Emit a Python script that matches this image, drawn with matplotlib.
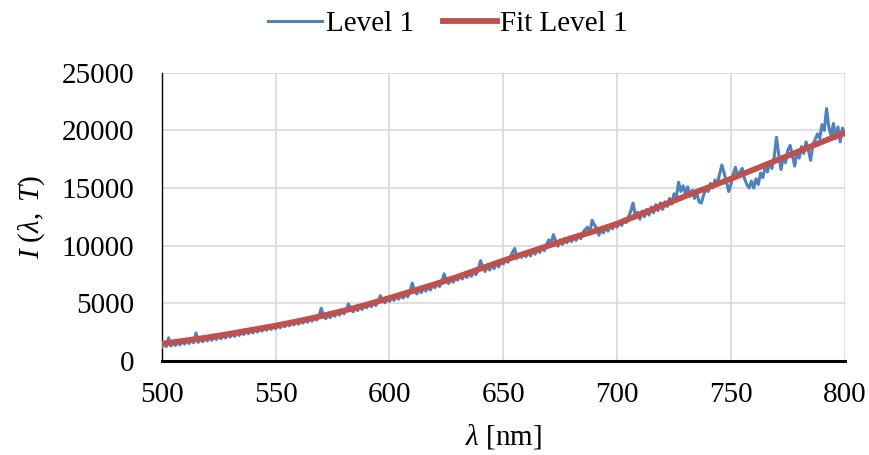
import matplotlib
matplotlib.use('Agg')
import matplotlib.pyplot as plt
import numpy as np

# measured spectrum, 1 nm steps from 500 to 800 nm
wavelength = np.arange(500, 801)
level1 = [
    1200, 1550, 1230, 2000, 1280, 1620, 1330, 1660, 1380, 1700,
    1450, 1780, 1500, 1830, 1560, 2420, 1600, 1900, 1660, 1980,
    1720, 2060, 1780, 2130, 1850, 2200, 1910, 2260, 1980, 2330,
    2060, 2400, 2120, 2460, 2200, 2550, 2280, 2620, 2350, 2680,
    2420, 2750, 2500, 2830, 2580, 2900, 2650, 2980, 2730, 3060,
    2780, 3100, 2860, 3200, 2950, 3280, 3030, 3370, 3120, 3450,
    3180, 3500, 3270, 3600, 3350, 3680, 3440, 3790, 3540, 3880,
    4550, 3950, 3650, 4020, 3750, 4130, 3860, 4230, 3970, 4330,
    4080, 4420, 4950, 4500, 4250, 4600, 4350, 4720, 4450, 4850,
    4600, 4930, 4700, 5040, 4800, 5170, 5650, 5280, 5030, 5420,
    5150, 5520, 5250, 5620, 5350, 5730, 5450, 5850, 5560, 5980,
    6750, 6100, 5800, 6200, 5920, 6330, 6050, 6450, 6150, 6580,
    6350, 6750, 6450, 6880, 7550, 7000, 6700, 7130, 6820, 7280,
    7000, 7420, 7100, 7550, 7230, 7680, 7330, 7800, 7480, 7950,
    8700, 8100, 7750, 8250, 7880, 8380, 8000, 8520, 8150, 8680,
    8400, 8830, 8550, 8980, 9400, 9750, 8900, 9250, 8980, 9350,
    9050, 9500, 9100, 9650, 9250, 9800, 9400, 9950, 9550, 10100,
    10500, 10200, 10950, 10400, 9950, 10500, 10100, 10650, 10250, 10750,
    10350, 10850, 10450, 11000, 10600, 11150, 11400, 11600, 11100, 12200,
    11800, 11500, 10900, 11450, 11100, 11650, 11250, 11800, 11450, 11950,
    11600, 12100, 11750, 12300, 12000, 12500, 13000, 13700, 12600, 12900,
    12300, 13000, 12500, 13150, 12650, 13350, 12850, 13550, 13050, 13700,
    13150, 13800, 13400, 14100, 13600, 14500, 14200, 15500, 14700, 15200,
    14500, 15100, 14300, 14800, 14100, 14600, 13800, 13700, 14400, 14900,
    14700, 15400, 15000, 15700, 15300, 16200, 16990, 16300, 15600, 14700,
    15300, 16200, 16800, 16000, 16400, 16700, 15800, 15300, 15000, 15600,
    15000, 15800, 15300, 16300, 15900, 16800, 16400, 17200, 16700, 17700,
    19400, 17900, 16600, 17700, 17200, 18300, 18700, 17800, 16900, 18100,
    17600, 18600, 18000, 19000, 18300, 17400, 18800, 19200, 19700, 19300,
    20500, 20000, 21900, 20300, 19500, 20600, 19300, 20300, 19000, 20200,
    19600,
]

# fitted curve, 10 nm steps
fit_wavelength = [500, 510, 520, 530, 540, 550, 560, 570, 580, 590, 600,
                  610, 620, 630, 640, 650, 660, 670, 680, 690, 700,
                  710, 720, 730, 740, 750, 760, 770, 780, 790, 800]
fit_level1 = [1480, 1750, 2030, 2350, 2700, 3050, 3450, 3880, 4350, 4880, 5450,
              6050, 6650, 7300, 8000, 8700, 9350, 10000, 10650, 11250, 11900,
              12700, 13500, 14300, 15050, 15800, 16600, 17400, 18200, 19000, 19800]


def main():
    plt.rcParams['font.family'] = 'Liberation Serif'
    plt.rcParams['mathtext.fontset'] = 'custom'
    plt.rcParams['mathtext.rm'] = 'Liberation Serif'
    plt.rcParams['mathtext.it'] = 'Liberation Serif:italic'
    plt.rcParams['font.size'] = 21

    fig = plt.figure(figsize=(8.7, 4.55), dpi=100)
    ax = fig.add_axes([0.186, 0.207, 0.785, 0.633])

    ax.plot(wavelength, level1, color='#4F81BD', lw=2.2, label='Level 1', zorder=3)
    ax.plot(fit_wavelength, fit_level1, color='#C0504D', lw=4.2,
            label='Fit Level 1', zorder=4)

    ax.set_xlim(500, 800)
    ax.set_ylim(0, 25000)
    ax.set_xticks(range(500, 801, 50))
    ax.set_yticks(range(0, 25001, 5000))
    ax.grid(True, color='#D9D9D9', lw=1.2)
    ax.set_axisbelow(True)
    ax.tick_params(length=0)
    ax.tick_params(axis='x', pad=15)
    ax.tick_params(axis='y', pad=20)

    for side in ['top', 'right']:
        ax.spines[side].set_visible(False)
    ax.spines['left'].set_color('black')
    ax.spines['left'].set_linewidth(1.0)
    ax.spines['bottom'].set_color('black')
    ax.spines['bottom'].set_linewidth(2.2)

    ax.set_xlabel(r'$\lambda$ [nm]', labelpad=10)
    ax.set_ylabel(r'$I\ (\lambda,\ T)$', labelpad=10)

    fig.legend(loc='upper center', bbox_to_anchor=(0.515, 1.035), ncol=2,
               frameon=False, handlelength=1.85, handletextpad=0.12,
               columnspacing=1.0)

    fig.savefig('out.png', dpi=100)


if __name__ == '__main__':
    main()
